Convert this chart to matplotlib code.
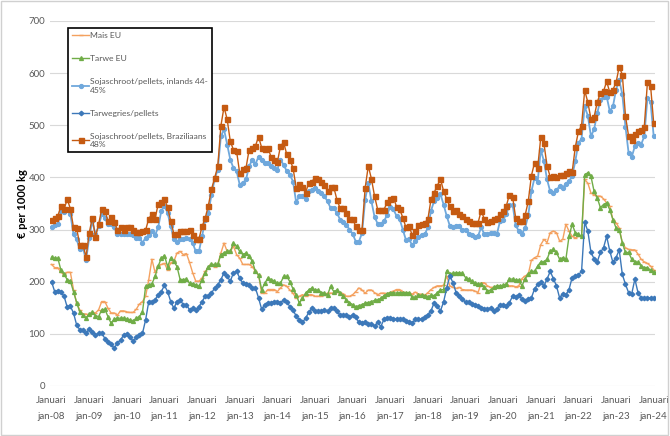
import matplotlib
matplotlib.use("Agg")
import matplotlib.pyplot as plt
from matplotlib.patches import Rectangle

plt.rcParams['font.family'] = ['Lato', 'DejaVu Sans']

# maandelijkse prijzen (euro per 1000 kg), jan-08 t/m jan-24
mais_eu = [233, 227, 227, 218, 214, 218, 218, 185, 159, 146, 138, 138, 136, 141, 140, 146, 162, 162, 149, 140,
           140, 136, 144, 144, 142, 141, 141, 147, 157, 162, 172, 204, 243, 218, 230, 233, 235,
           223, 236, 239, 255, 258, 252, 254, 237, 217, 201, 201, 207, 220, 226, 233, 229, 233, 255, 274,
           258, 258, 268, 252, 245, 233, 233, 233, 229, 220, 213, 178, 178, 185, 185, 185, 181, 188,
           194, 191, 184, 178, 168, 172, 175, 173, 175, 175, 172, 172, 173, 175, 178, 178, 178, 181, 179,
           177, 172, 172, 175, 181, 188, 184, 178, 184, 184, 179, 175, 178, 178, 177,
           179, 182, 185, 185, 180, 179, 179, 176, 180, 176, 176, 174, 179, 185, 189, 192, 192, 193, 211,
           192, 189, 187, 189, 185, 184, 184, 184, 182, 179, 198, 198, 192, 189, 189, 192,
           190, 192, 195, 192, 192, 190, 192, 206, 211, 214, 241, 246, 249, 271, 281, 275, 294, 297, 294,
           278, 281, 310, 297, 287, 284, 287, 287, 396, 389, 370, 367, 364, 364, 359, 351, 345, 319, 313,
           303, 274, 265, 262, 261, 261, 253, 243, 238, 235, 230, 223]

tarwe_eu = [247, 245, 245, 222, 214, 204, 201, 181, 160, 142, 137, 130, 138, 141, 135, 133, 146, 147, 133, 120,
            128, 130, 130, 130, 128, 127, 124, 130, 133, 142, 191, 194, 196, 210, 230, 245, 250,
            229, 245, 239, 229, 204, 204, 205, 197, 196, 194, 191, 204, 217, 229, 233, 233, 233, 252, 255,
            258, 258, 274, 268, 258, 252, 255, 249, 239, 220, 213, 185, 197, 207, 204, 201, 197, 197,
            210, 210, 200, 186, 175, 159, 168, 178, 184, 188, 184, 184, 179, 178, 175, 191, 181, 184, 178,
            172, 165, 160, 156, 152, 154, 156, 159, 160, 162, 164, 165, 168, 173, 177,
            179, 179, 178, 179, 179, 179, 179, 170, 170, 174, 174, 173, 171, 174, 173, 179, 184, 185, 221,
            215, 216, 217, 217, 216, 208, 205, 201, 198, 195, 195, 189, 182, 184, 189, 192,
            192, 193, 195, 205, 205, 203, 203, 192, 206, 214, 220, 220, 230, 238, 238, 243, 259, 262, 256,
            243, 246, 243, 287, 310, 294, 291, 287, 405, 409, 402, 373, 361, 342, 348, 351, 338, 319, 303,
            300, 275, 256, 256, 243, 238, 237, 230, 227, 227, 222, 218]

soja_inlands = [305, 308, 310, 336, 334, 339, 329, 291, 281, 262, 265, 241, 284, 316, 291, 306, 329, 323, 310, 310,
                304, 292, 291, 291, 291, 291, 289, 284, 284, 275, 284, 289, 297, 289, 304, 336, 345,
                332, 306, 282, 277, 282, 281, 284, 282, 274, 258, 258, 287, 319, 332, 367, 396, 415, 479, 492,
                463, 434, 418, 412, 386, 389, 396, 421, 434, 425, 440, 434, 428, 428, 421, 418, 415, 434,
                424, 412, 405, 392, 352, 364, 365, 358, 373, 376, 380, 373, 371, 364, 354, 341, 341, 332, 319,
                314, 309, 300, 292, 277, 277, 293, 357, 389, 354, 324, 311, 311, 316, 328,
                344, 339, 326, 320, 300, 280, 281, 270, 278, 285, 289, 291, 304, 336, 355, 361, 368, 348, 326,
                307, 304, 306, 307, 300, 300, 291, 289, 285, 288, 304, 291, 291, 294, 294, 291,
                316, 319, 329, 347, 348, 308, 297, 292, 303, 327, 373, 399, 392, 453, 431, 396, 373, 370, 376,
                383, 380, 388, 393, 402, 431, 466, 474, 536, 518, 479, 492, 523, 549, 554, 555, 527, 536, 568,
                587, 559, 497, 447, 439, 460, 466, 463, 479, 552, 544, 479]

tarwegries = [200, 181, 183, 180, 172, 151, 153, 140, 117, 108, 108, 101, 109, 104, 98, 101, 102, 91, 85, 80,
              72, 83, 88, 98, 99, 94, 86, 93, 98, 101, 127, 162, 162, 165, 175, 181, 193,
              181, 162, 149, 162, 165, 156, 156, 146, 149, 146, 152, 162, 172, 172, 178, 188, 194, 204, 217,
              210, 201, 217, 220, 207, 197, 196, 194, 188, 188, 169, 147, 156, 160, 160, 162, 162, 160,
              165, 162, 152, 146, 134, 127, 122, 130, 141, 149, 144, 144, 143, 146, 143, 149, 149, 143, 136,
              136, 136, 133, 136, 132, 122, 121, 122, 119, 119, 115, 122, 114, 128, 130,
              131, 129, 128, 128, 128, 125, 122, 120, 128, 128, 128, 133, 137, 144, 160, 153, 144, 161, 188,
              211, 198, 179, 173, 166, 161, 161, 157, 155, 153, 150, 148, 147, 150, 144, 148,
              156, 156, 153, 160, 172, 171, 175, 166, 163, 166, 169, 186, 195, 199, 192, 205, 220, 206, 192,
              169, 177, 175, 185, 208, 210, 213, 220, 314, 297, 256, 244, 238, 256, 265, 287, 259, 237, 246,
              261, 214, 195, 179, 177, 205, 179, 169, 169, 169, 169, 169]

soja_braziliaans = [318, 323, 326, 345, 339, 358, 340, 304, 302, 271, 271, 248, 293, 323, 286, 310, 339, 336, 316, 324,
                    315, 299, 305, 300, 305, 305, 300, 296, 295, 298, 299, 321, 329, 320, 349, 353, 358,
                    343, 316, 292, 292, 297, 297, 298, 300, 290, 281, 282, 306, 322, 346, 377, 399, 421, 499, 535,
                    511, 469, 453, 450, 408, 416, 418, 453, 457, 460, 478, 457, 455, 457, 439, 434, 429, 460,
                    467, 444, 434, 418, 380, 387, 381, 371, 389, 392, 399, 396, 392, 386, 373, 381, 381, 357, 341,
                    341, 332, 320, 320, 306, 300, 300, 380, 422, 397, 364, 338, 338, 338, 352,
                    358, 361, 344, 339, 323, 304, 307, 289, 297, 308, 310, 313, 320, 358, 371, 384, 397, 374, 358,
                    345, 336, 338, 329, 326, 321, 316, 313, 313, 313, 336, 320, 315, 316, 320, 322,
                    329, 335, 345, 367, 363, 322, 316, 316, 327, 354, 403, 428, 418, 477, 465, 422, 401, 402, 400,
                    405, 405, 409, 412, 410, 458, 488, 499, 567, 544, 512, 516, 544, 562, 565, 584, 563, 568, 582,
                    612, 597, 518, 479, 471, 483, 488, 490, 497, 582, 576, 504]

jaren = list(range(8, 25))
tick_labels = ["Januari\njan-%02d" % j for j in jaren]

maanden = list(range(len(mais_eu)))

fig = plt.figure(figsize=(6.7, 4.36), dpi=100)
ax = fig.add_axes([0.0746, 0.1147, 0.9034, 0.8373])

ax.plot(maanden, mais_eu, color="#F4A15F", lw=1.0, marker="_", ms=2.5, label="Mais EU")
ax.plot(maanden, tarwe_eu, color="#70AD47", lw=1.0, marker="^", ms=2.8, label="Tarwe EU")
ax.plot(maanden, soja_inlands, color="#6FA8DC", lw=1.3, marker="o", ms=2.8,
        label="Sojaschroot/pellets, inlands 44-\n45%")
ax.plot(maanden, tarwegries, color="#3C78B9", lw=1.0, marker="D", ms=2.3, label="Tarwegries/pellets")
ax.plot(maanden, soja_braziliaans, color="#C55A11", lw=1.0, marker="s", ms=3.6,
        label="Sojaschroot/pellets, Braziliaans\n48%")

ax.set_ylim(0, 700)
ax.set_xlim(-0.5, len(maanden) - 0.5)
ax.set_yticks(range(0, 701, 100))
ax.set_xticks(range(0, len(maanden), 12))
ax.set_xticklabels(tick_labels, linespacing=2.0)
ax.tick_params(axis="both", length=0, labelsize=7, colors="#595959")
ax.tick_params(axis="x", pad=7)
ax.grid(axis="y", color="#D9D9D9", lw=0.8)
ax.set_axisbelow(True)
for s in ax.spines.values():
    s.set_visible(False)

ax.set_ylabel("€ per 1000 kg", fontsize=8, fontweight="bold", labelpad=0)

leg = ax.legend(loc="upper left", bbox_to_anchor=(0.03, 0.981), borderaxespad=0, fontsize=6.1,
                labelspacing=1.9, handlelength=2.0, handletextpad=0.05, borderpad=0.5,
                fancybox=False, framealpha=1)
leg.get_frame().set_edgecolor("black")
leg.get_frame().set_linewidth(1.2)
for t in leg.get_texts():
    t.set_color("#595959")

fig.patches.append(Rectangle((0.002, 0.003), 0.995, 0.994, transform=fig.transFigure,
                             fill=False, edgecolor="#D0D0D0", lw=1))

fig.savefig("out.png", dpi=100)
